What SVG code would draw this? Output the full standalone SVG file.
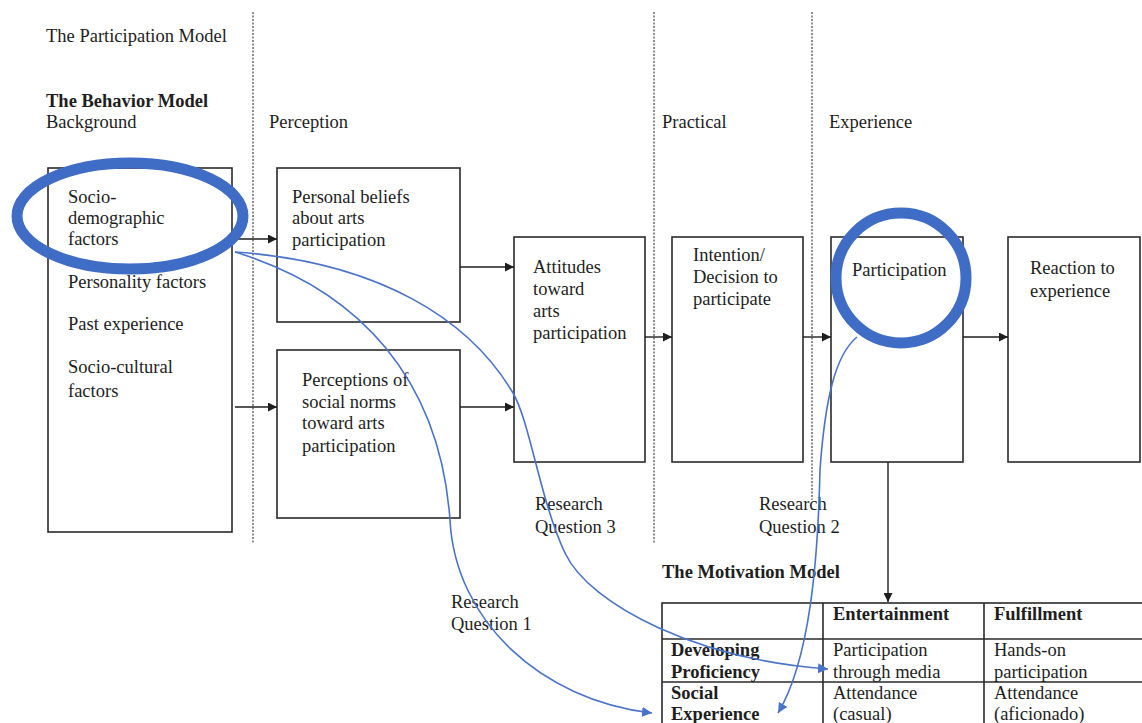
<svg xmlns="http://www.w3.org/2000/svg" width="1142" height="723" viewBox="0 0 1142 723">
<style>
text{font-family:"Liberation Serif","Times New Roman",serif;font-size:18.5px;fill:#1e1e1e}
.b{font-weight:bold}
.box{fill:none;stroke:#2a2a2a;stroke-width:1.6}
.div{stroke:#555;stroke-width:1.3;stroke-dasharray:2 1.5;fill:none}
.arr{stroke:#1e1e1e;stroke-width:1.4;fill:none;marker-end:url(#ah)}
.blue{stroke:#4a74c9;stroke-width:1.6;fill:none;marker-end:url(#bh)}
.ring{fill:none;stroke:#3f6cc4;stroke-width:11}
.tbl{stroke:#2a2a2a;stroke-width:1.6;fill:none}
</style>
<defs>
<marker id="ah" viewBox="0 0 10 10" refX="10" refY="5" markerWidth="9" markerHeight="9" markerUnits="userSpaceOnUse" orient="auto"><path d="M0,0 L10,5 L0,10 z" fill="#1e1e1e"/></marker>
<marker id="bh" viewBox="0 0 10 10" refX="10" refY="5" markerWidth="10" markerHeight="10" markerUnits="userSpaceOnUse" orient="auto"><path d="M0,0 L10,5 L0,10 z" fill="#4a74c9"/></marker>
</defs>
<rect width="1142" height="723" fill="#fff"/>
<g id="dividers">
<line class="div" x1="253" y1="12" x2="253" y2="543"/>
<line class="div" x1="654" y1="12" x2="654" y2="543"/>
<line class="div" x1="812" y1="12" x2="812" y2="500"/>
</g>
<g id="headings">
<text x="46" y="42">The Participation Model</text>
<text x="46" y="107" class="b">The Behavior Model</text>
<text x="46" y="128">Background</text>
<text x="269" y="128">Perception</text>
<text x="662" y="128">Practical</text>
<text x="829" y="128">Experience</text>
</g>
<g id="background">
<rect class="box" x="48" y="168" width="184" height="364"/>
<text x="68" y="203">Socio-</text>
<text x="68" y="224">demographic</text>
<text x="68" y="245">factors</text>
<text x="68" y="288">Personality factors</text>
<text x="68" y="330">Past experience</text>
<text x="68" y="373">Socio-cultural</text>
<text x="68" y="397">factors</text>
</g>
<g id="beliefs">
<rect class="box" x="277" y="168" width="183" height="154"/>
<text x="292" y="203">Personal beliefs</text>
<text x="292" y="224">about arts</text>
<text x="292" y="246">participation</text>
</g>
<g id="norms">
<rect class="box" x="277" y="350" width="183" height="168"/>
<text x="302" y="386">Perceptions of</text>
<text x="302" y="408">social norms</text>
<text x="302" y="429">toward arts</text>
<text x="302" y="452">participation</text>
</g>
<g id="attitudes">
<rect class="box" x="514" y="237" width="131" height="225"/>
<text x="533" y="273">Attitudes</text>
<text x="533" y="295">toward</text>
<text x="533" y="317">arts</text>
<text x="533" y="339">participation</text>
</g>
<g id="intention">
<rect class="box" x="672" y="237" width="131" height="225"/>
<text x="693" y="261">Intention/</text>
<text x="693" y="283">Decision to</text>
<text x="693" y="305">participate</text>
</g>
<g id="participation">
<rect class="box" x="831" y="237" width="132" height="225"/>
<text x="852" y="276">Participation</text>
</g>
<g id="reaction">
<rect class="box" x="1008" y="237" width="132" height="225"/>
<text x="1030" y="274">Reaction to</text>
<text x="1030" y="297">experience</text>
</g>
<g id="rq-labels">
<text x="535" y="510">Research</text>
<text x="535" y="533">Question 3</text>
<text x="759" y="510">Research</text>
<text x="759" y="533">Question 2</text>
<text x="451" y="608">Research</text>
<text x="451" y="630">Question 1</text>
</g>
<g id="motivation-model">
<text x="662" y="578" class="b">The Motivation Model</text>
<rect class="tbl" x="662" y="603" width="490" height="140"/>
<line class="tbl" x1="662" y1="639" x2="1142" y2="639"/>
<line class="tbl" x1="662" y1="682" x2="1142" y2="682"/>
<line class="tbl" x1="823" y1="603" x2="823" y2="723"/>
<line class="tbl" x1="984" y1="603" x2="984" y2="723"/>
<text x="833" y="620" class="b">Entertainment</text>
<text x="994" y="620" class="b">Fulfillment</text>
<text x="671" y="656" class="b">Developing</text>
<text x="671" y="678" class="b">Proficiency</text>
<text x="833" y="656">Participation</text>
<text x="833" y="678">through media</text>
<text x="994" y="656">Hands-on</text>
<text x="994" y="678">participation</text>
<text x="671" y="699" class="b">Social</text>
<text x="671" y="720" class="b">Experience</text>
<text x="833" y="699">Attendance</text>
<text x="833" y="720">(casual)</text>
<text x="994" y="699">Attendance</text>
<text x="994" y="720">(aficionado)</text>
</g>
<g id="connectors">
<line class="arr" x1="232" y1="239" x2="277" y2="239"/>
<line class="arr" x1="235" y1="407" x2="277" y2="407"/>
<line class="arr" x1="460" y1="267" x2="514" y2="267"/>
<line class="arr" x1="460" y1="407" x2="514" y2="407"/>
<line class="arr" x1="645" y1="337" x2="672" y2="337"/>
<line class="arr" x1="803" y1="337" x2="831" y2="337"/>
<line class="arr" x1="963" y1="337" x2="1008" y2="337"/>
<line class="arr" x1="888" y1="462" x2="888" y2="602"/>
<path class="blue" d="M235 252 C360 290 440 380 450 520 C455 620 540 700 652 713"/>
<path class="blue" d="M235 252 C380 262 470 320 513 393 C530 422 540 500 565 553 C590 606 700 660 828 669"/>
<path class="blue" d="M857 337 C835 355 825 400 820 470 C818 560 810 660 778 713"/>
</g>
<g id="highlights">
<ellipse class="ring" cx="130" cy="216" rx="113" ry="53"/>
<circle class="ring" cx="901" cy="278" r="65"/>
</g>
</svg>
